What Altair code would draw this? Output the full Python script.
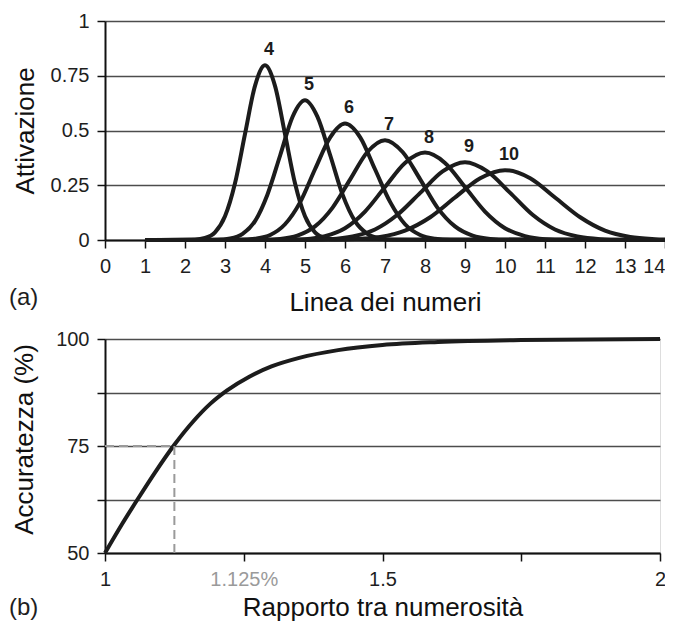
import altair as alt
import pandas as pd

FONT = "Liberation Sans"
INK = "#1c1c1c"

# ---------------- Panel (a): tuning curves ----------------
curve_ids = [4, 5, 6, 7, 8, 9, 10]

x4 = [1, 2.25, 2.5, 2.75, 3.0, 3.25, 3.5, 3.75, 4, 4.25, 4.5, 4.75, 5, 5.25, 5.5, 5.75, 14]
y4 = [0, 0.002, 0.009, 0.035, 0.108, 0.259, 0.484, 0.704, 0.798, 0.704, 0.484, 0.259, 0.108, 0.035, 0.009, 0.002, 0]

x5 = [1, 2.81, 3.13, 3.44, 3.75, 4.06, 4.38, 4.69, 5, 5.31, 5.63, 5.94, 6.25, 6.56, 6.88, 7.19, 14]
y5 = [0, 0.001, 0.007, 0.028, 0.086, 0.207, 0.387, 0.563, 0.638, 0.563, 0.387, 0.207, 0.086, 0.028, 0.007, 0.001, 0]

x6 = [1, 3.38, 3.75, 4.13, 4.5, 4.88, 5.25, 5.63, 6, 6.38, 6.75, 7.13, 7.5, 7.88, 8.25, 8.63, 14]
y6 = [0, 0.001, 0.006, 0.023, 0.072, 0.173, 0.323, 0.469, 0.532, 0.469, 0.323, 0.173, 0.072, 0.023, 0.006, 0.001, 0]

x7 = [1, 3.94, 4.38, 4.81, 5.25, 5.69, 6.13, 6.56, 7, 7.44, 7.88, 8.31, 8.75, 9.19, 9.63, 10.06, 14]
y7 = [0, 0.001, 0.005, 0.020, 0.062, 0.148, 0.277, 0.402, 0.456, 0.402, 0.277, 0.148, 0.062, 0.020, 0.005, 0.001, 0]

x8 = [1, 4.5, 5, 5.5, 6, 6.5, 7, 7.5, 8, 8.5, 9, 9.5, 10, 10.5, 11, 11.5, 14]
y8 = [0, 0.001, 0.004, 0.018, 0.054, 0.130, 0.242, 0.352, 0.399, 0.352, 0.242, 0.130, 0.054, 0.018, 0.004, 0.001, 0]

x9 = [1, 5.06, 5.63, 6.19, 6.75, 7.31, 7.88, 8.44, 9, 9.56, 10.13, 10.69, 11.25, 11.81, 12.38, 12.94, 14]
y9 = [0, 0.001, 0.004, 0.016, 0.048, 0.115, 0.215, 0.313, 0.355, 0.313, 0.215, 0.115, 0.048, 0.016, 0.004, 0.001, 0]

x10 = [1, 5.63, 6.25, 6.88, 7.5, 8.13, 8.75, 9.38, 10, 10.63, 11.25, 11.88, 12.5, 13.13, 13.75, 14]
y10 = [0, 0.001, 0.004, 0.014, 0.043, 0.104, 0.194, 0.282, 0.319, 0.282, 0.194, 0.104, 0.043, 0.014, 0.004, 0.002]

peak_x = [4, 5, 6, 7, 8, 9, 10]
peak_y = [0.798, 0.638, 0.532, 0.456, 0.399, 0.355, 0.319]
peak_label = ["4", "5", "6", "7", "8", "9", "10"]

x_ticks_a = list(range(15))
y_ticks_a = [0, 0.25, 0.5, 0.75, 1]

# ---------------- Panel (b): accuracy curve ----------------
ratio = [1, 1.03, 1.06, 1.09, 1.125, 1.16, 1.19, 1.22, 1.26, 1.30, 1.35, 1.42, 1.5, 1.6, 1.75, 2]
accuracy = [50, 56.6, 62.8, 68.8, 75.3, 80.9, 84.9, 88.0, 91.2, 93.6, 95.6, 97.4, 98.6, 99.3, 99.75, 100]

threshold_ratio = 1.125
threshold_acc = 75
x_ticks_b = [1, 1.25, 1.5, 1.75, 2]
y_ticks_b = [50, 62.5, 75, 87.5, 100]

# ---------------- tables ----------------
rows = []
for cid, xs, ys in zip(curve_ids, [x4, x5, x6, x7, x8, x9, x10], [y4, y5, y6, y7, y8, y9, y10]):
    for xv, yv in zip(xs, ys):
        rows.append({"curve": cid, "x": xv, "y": yv})
df_a = pd.DataFrame(rows)
df_peaks = pd.DataFrame({"x": peak_x, "y": peak_y, "label": peak_label})
df_b = pd.DataFrame({"ratio": ratio, "acc": accuracy})
df_dash_h = pd.DataFrame({"ratio": [1], "ratio_end": [threshold_ratio], "acc": [threshold_acc]})
df_dash_v = pd.DataFrame({"ratio": [threshold_ratio], "acc": [50], "acc_end": [threshold_acc]})

axis_style = dict(
    labelFont=FONT, labelFontSize=20,
    titleFont=FONT, titleFontSize=26, titleFontWeight="normal", titleColor="#111111",
    domainColor="#111111", domainWidth=2, tickColor="#111111", tickWidth=1.5, tickSize=8,
    labelOverlap=False, labelFlush=False, labelPadding=8,
)
grid_style = dict(grid=True, gridColor="#4d4d4d", gridWidth=1.5)

W_A, H_A = 560, 219
W_B, H_B = 555, 214

xa = alt.X("x:Q", scale=alt.Scale(domain=[0, 14], nice=False, zero=False),
           axis=alt.Axis(values=x_ticks_a, title="Linea dei numeri", grid=False, tickCount=15,
                         labelExpr="'' + datum.value", labelColor="#1e1e1e",
                         labelAlign={"condition": {"test": "datum.value == 14", "value": "right"},
                                     "value": "center"},
                         titleBaseline="alphabetic", titleY=70, **axis_style))
ya = alt.Y("y:Q", scale=alt.Scale(domain=[0, 1], nice=False),
           axis=alt.Axis(values=y_ticks_a, title="Attivazione", labelExpr="'' + datum.value",
                         labelColor="#1e1e1e", titleBaseline="alphabetic", titleX=-72,
                         **grid_style, **axis_style))

curves = alt.Chart(df_a).mark_line(interpolate="monotone", color=INK, strokeWidth=4).encode(
    x=xa, y=ya, detail="curve:N"
)
peak_text = alt.Chart(df_peaks).mark_text(
    font=FONT, fontSize=18, fontWeight="bold", color=INK, dx=4, dy=-15, baseline="middle"
).encode(x=xa, y=ya, text="label:N")
tag_a = alt.Chart(pd.DataFrame({"t": ["(a)"]})).mark_text(
    font=FONT, fontSize=24, color="#1e1e1e", align="left", baseline="alphabetic"
).encode(text="t:N", x=alt.value(-96), y=alt.value(H_A + 65))

panel_a = alt.layer(curves, peak_text, tag_a).properties(width=W_A, height=H_A)

xb = alt.X("ratio:Q", scale=alt.Scale(domain=[1, 2], nice=False, zero=False),
           axis=alt.Axis(values=x_ticks_b, title="Rapporto tra numerosità", grid=False,
                         labelExpr="datum.value == 1.25 ? '1.125%' : (datum.value == 1.75 ? '' : '' + datum.value)",
                         labelColor={"condition": {"test": "datum.value == 1.25", "value": "#9a9a9a"},
                                     "value": "#1e1e1e"},
                         titleBaseline="alphabetic", titleY=62, **axis_style))
yb = alt.Y("acc:Q", scale=alt.Scale(domain=[50, 100], nice=False, zero=False),
           axis=alt.Axis(values=y_ticks_b, title="Accuratezza (%)",
                         labelExpr="datum.value % 25 == 0 ? '' + datum.value : ''",
                         labelColor="#1e1e1e", titleBaseline="alphabetic", titleX=-73, titleY=100,
                         **grid_style, **axis_style))

acc_line = alt.Chart(df_b).mark_line(interpolate="monotone", color=INK, strokeWidth=4).encode(
    x=xb, y=yb
)
dash_h = alt.Chart(df_dash_h).mark_rule(color="#9a9a9a", strokeWidth=2, strokeDash=[9, 5]).encode(
    x=xb, x2="ratio_end:Q", y=yb
)
dash_v = alt.Chart(df_dash_v).mark_rule(color="#9a9a9a", strokeWidth=2, strokeDash=[9, 5]).encode(
    x=xb, y=yb, y2="acc_end:Q"
)
tag_b = alt.Chart(pd.DataFrame({"t": ["(b)"]})).mark_text(
    font=FONT, fontSize=24, color="#1e1e1e", align="left", baseline="alphabetic"
).encode(text="t:N", x=alt.value(-96), y=alt.value(H_B + 62))

panel_b = alt.layer(acc_line, dash_h, dash_v, tag_b).properties(width=W_B, height=H_B)

chart = alt.vconcat(panel_a, panel_b, spacing=12).properties(
    padding={"left": 0, "top": 2, "right": -9, "bottom": 0}
).configure_view(stroke=None).configure_axis(
    labelFont=FONT, labelFontSize=20, titleFont=FONT, titleFontSize=26
).configure(font=FONT, background="white")

chart.save("out.html", embed_options={"renderer": "svg", "actions": False})
